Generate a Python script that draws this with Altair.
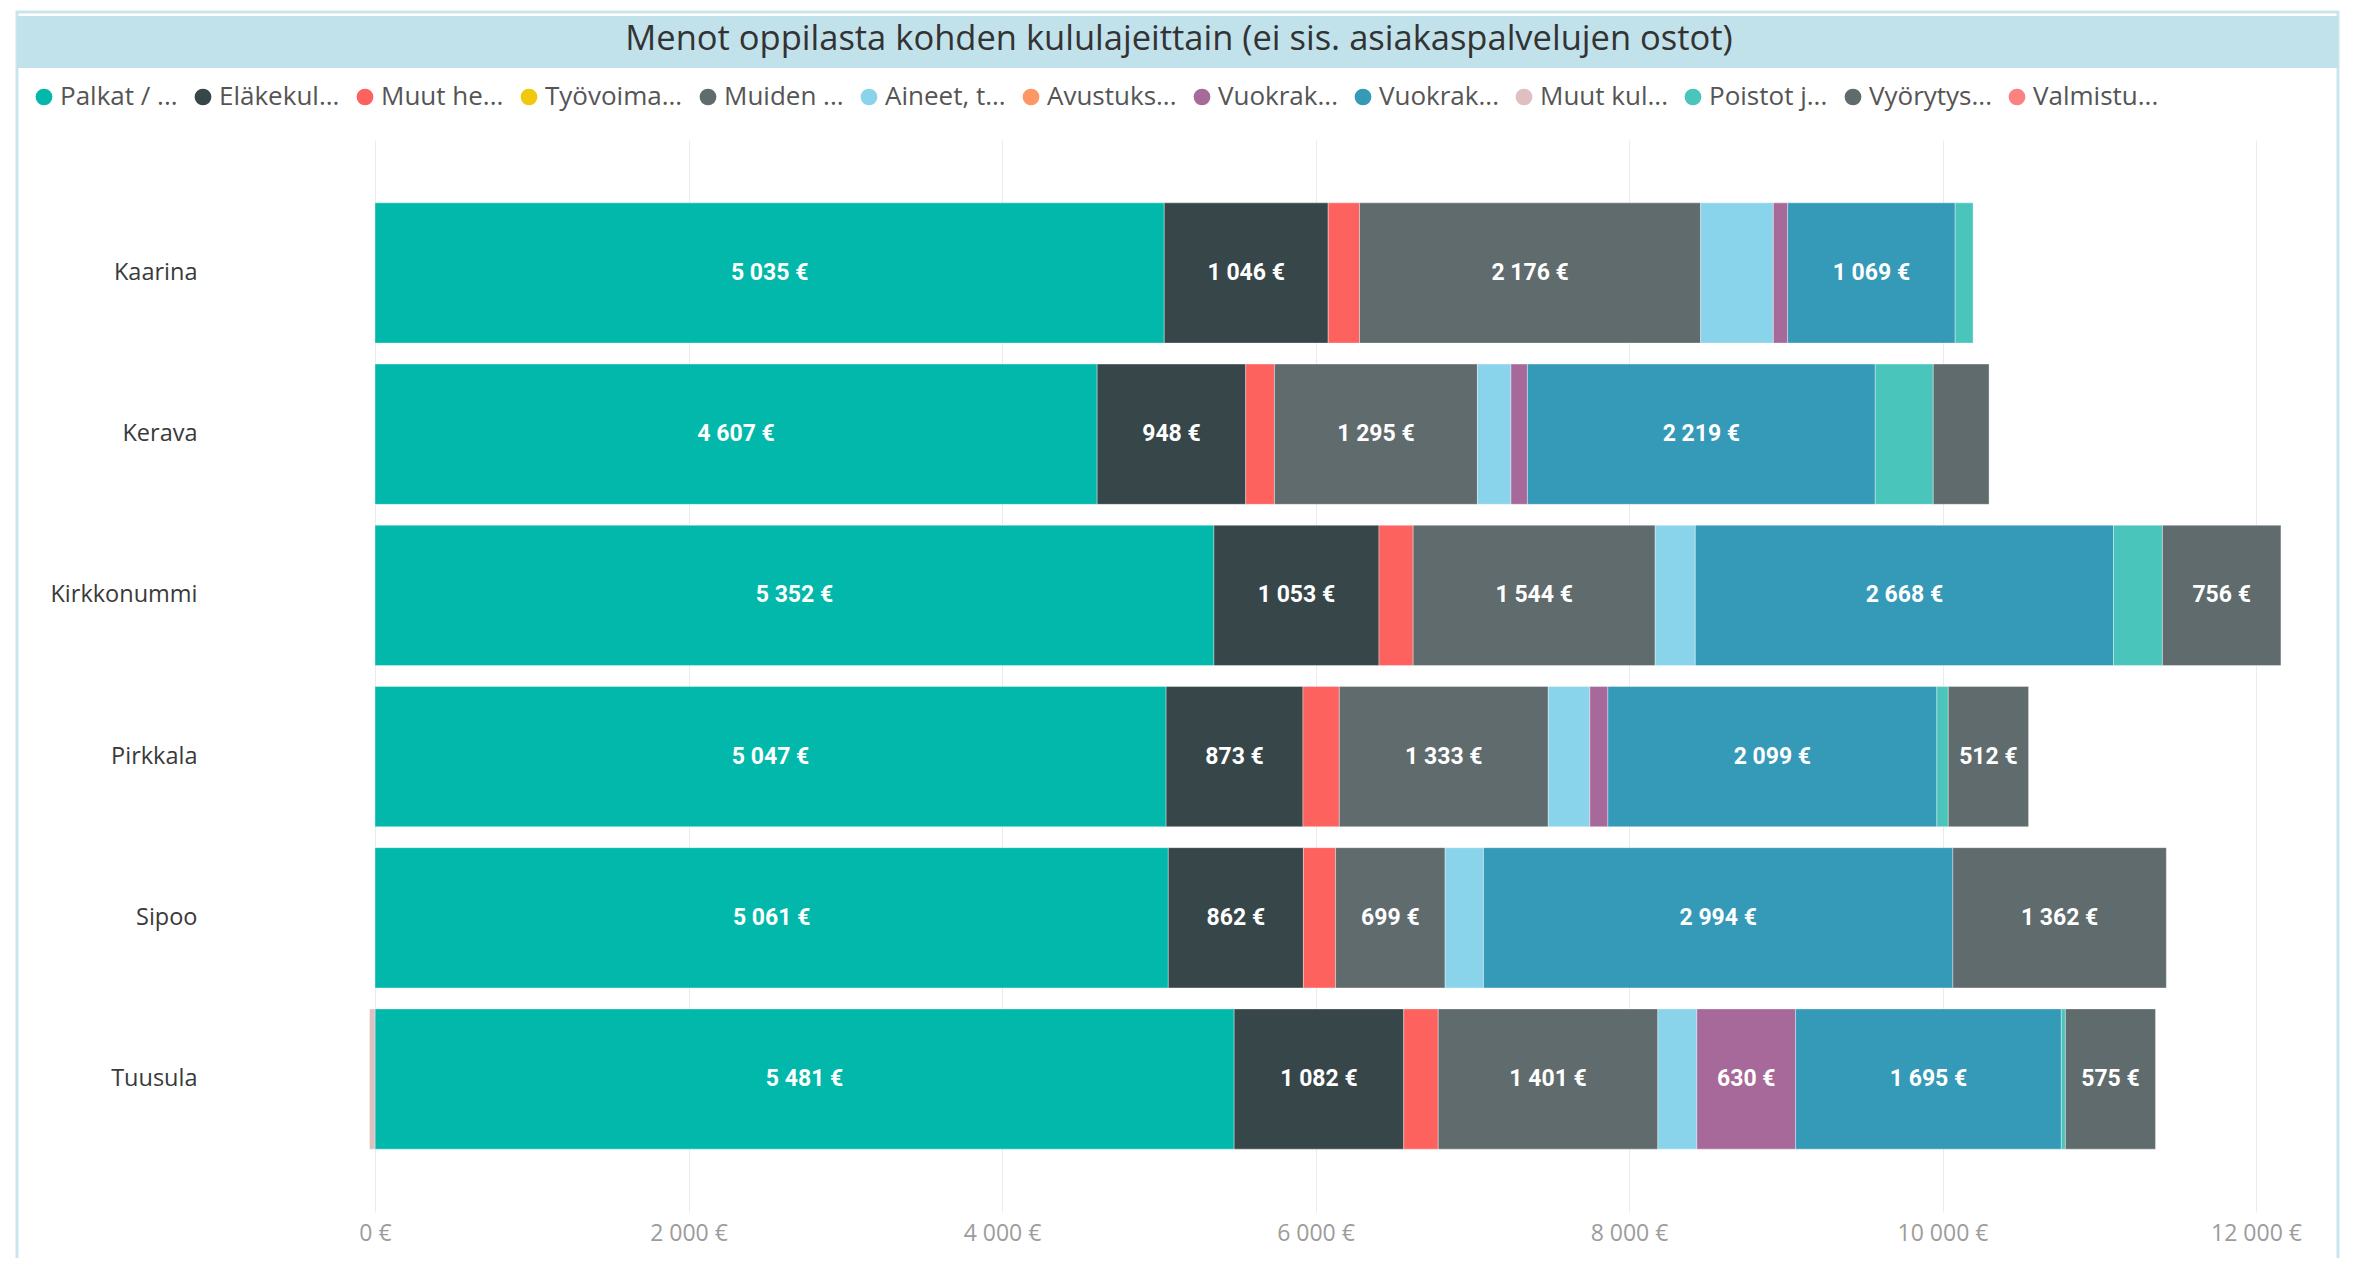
import json
import altair as alt
import pandas as pd

# ---------------- data ----------------
municipalities = ["Kaarina", "Kerava", "Kirkkonummi", "Pirkkala", "Sipoo", "Tuusula"]

series_names = [
    "Palkat / palkkiot", "Eläkekulut", "Muut henkilösivukulut",
    "Työvoimakustannusten oikaisuerät", "Muiden palvelujen ostot",
    "Aineet, tarvikkeet ja tavarat", "Avustukset", "Vuokrakulut, sisäiset",
    "Vuokrakulut, ulkoiset", "Muut kulut", "Poistot ja arvonalentumiset",
    "Vyörytyskulut", "Valmistus omaan käyttöön",
]
legend_labels = [
    "Palkat / ...", "Eläkekul...", "Muut he...", "Työvoima...", "Muiden ...",
    "Aineet, t...", "Avustuks...", "Vuokrak...", "Vuokrak...", "Muut kul...",
    "Poistot j...", "Vyörytys...", "Valmistu...",
]
series_colors = [
    "#01B8AA", "#374649", "#FD625E", "#F2C80F", "#5F6B6D", "#8AD4EB", "#FE9666",
    "#A66999", "#3599B8", "#DFBFBF", "#4AC5BB", "#5F6B6D", "#FB8281",
]

palkat = [5035, 4607, 5352, 5047, 5061, 5481]
elake = [1046, 948, 1053, 873, 862, 1082]
muut_henk = [200, 183, 218, 232, 205, 220]
tyovoima = [0, 0, 0, 0, 0, 0]
muiden_palv = [2176, 1295, 1544, 1333, 699, 1401]
aineet = [464, 214, 256, 265, 245, 249]
avustukset = [0, 0, 0, 0, 0, 0]
vuokra_sis = [91, 105, 0, 115, 0, 630]
vuokra_ulk = [1069, 2219, 2668, 2099, 2994, 1695]
muut_kulut = [0, 0, 0, 0, 0, -35]
poistot = [114, 370, 312, 73, 0, 26]
vyorytys = [0, 356, 756, 512, 1362, 575]
valmistus = [0, 0, 0, 0, 0, 0]

series_values = [palkat, elake, muut_henk, tyovoima, muiden_palv, aineet, avustukset,
                 vuokra_sis, vuokra_ulk, muut_kulut, poistot, vyorytys, valmistus]

title_text = "Menot oppilasta kohden kululajeittain (ei sis. asiakaspalvelujen ostot)"
x_ticks = [0, 2000, 4000, 6000, 8000, 10000, 12000]

rows = []
for si, (name, vals) in enumerate(zip(series_names, series_values)):
    for m, v in zip(municipalities, vals):
        if v != 0:
            rows.append({
                "kunta": m, "sarja": name, "order": si, "value": v,
                "label": f"{abs(v):,}".replace(",", " ") + " €",
            })
df = pd.DataFrame(rows)

# ---------------- layout (pixels relative to plot origin) ----------------
PLOT_W = 1881
PLOT_H = 1072
FONT = "Open Sans"

label_expr = (
    json.dumps(legend_labels, ensure_ascii=False)
    + "[indexof(" + json.dumps(series_names, ensure_ascii=False) + ", datum.label)]"
)

xscale = alt.Scale(domain=[0, 12000], nice=False, zero=False)
yscale = alt.Scale(domain=municipalities, paddingInner=0.13, paddingOuter=0.39)

base = alt.Chart(df).transform_stack(
    stack="value", as_=["x0", "x1"], groupby=["kunta"],
    sort=[alt.SortField("order", order="ascending")],
)

bars = base.mark_bar(stroke="#FFFFFF", strokeWidth=0.6, strokeOpacity=0.6).encode(
    x=alt.X("x0:Q", scale=xscale, title=None,
            axis=alt.Axis(values=x_ticks, domain=False, ticks=False, grid=True,
                          gridColor="#EBEBEB", gridWidth=1, labelFlush=False,
                          labelExpr="replace(format(datum.value, ','), ',', ' ') + ' €'",
                          labelFont=FONT, labelFontSize=23, labelColor="#9C9C9C",
                          labelPadding=10)),
    x2="x1:Q",
    y=alt.Y("kunta:N", scale=yscale, sort=municipalities, title=None,
            axis=alt.Axis(domain=False, ticks=False, labelFont=FONT, labelFontSize=23.5,
                          labelColor="#3A3A3A", labelPadding=178, labelAlign="right")),
    color=alt.Color("sarja:N",
                    scale=alt.Scale(domain=series_names, range=series_colors),
                    legend=alt.Legend(orient="none", legendX=-344, legendY=-56,
                                      direction="horizontal", columns=13, title=None,
                                      symbolType="circle", symbolSize=280,
                                      symbolStrokeWidth=0,
                                      labelFont=FONT, labelFontSize=26,
                                      labelColor="#555555", labelOffset=3,
                                      columnPadding=12, labelExpr=label_expr)),
)

labels = base.transform_filter("abs(datum.value) >= 500").transform_calculate(
    mid="(datum.x0 + datum.x1) / 2"
).mark_text(color="#FFFFFF", fontWeight="bold", font="Roboto", fontSize=23).encode(
    x=alt.X("mid:Q", scale=xscale),
    y=alt.Y("kunta:N", scale=yscale, sort=municipalities),
    text="label:N",
)

deco_df = pd.DataFrame({"t": [title_text]})
frame = alt.Chart(deco_df).mark_rect(fill="#FFFFFF", fillOpacity=0, stroke="#C9E5EE",
                                     strokeWidth=3).encode(
    x=alt.value(-358), x2=alt.value(1963), y=alt.value(-128), y2=alt.value(1120))
band = alt.Chart(deco_df).mark_rect(fill="#C2E2EB").encode(
    x=alt.value(-358), x2=alt.value(1963), y=alt.value(-124), y2=alt.value(-72))
title = alt.Chart(deco_df).mark_text(font=FONT, fontSize=34.5, color="#333333",
                                     baseline="middle", align="center").encode(
    x=alt.value(804), y=alt.value(-100), text="t:N")

chart = alt.layer(frame, band, title, bars, labels).properties(
    width=PLOT_W, height=PLOT_H,
    autosize=alt.AutoSizeParams(type="none"),
    padding={"left": 367, "top": 132, "right": 97, "bottom": 46},
).configure_view(stroke=None)

chart.save("out.html", embed_options={"renderer": "svg", "actions": False})
